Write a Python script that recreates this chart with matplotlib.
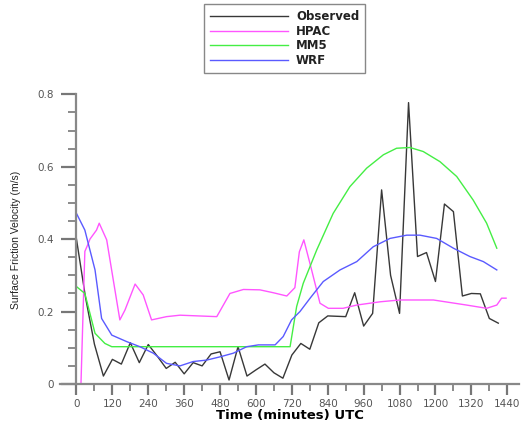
import numpy as np
import matplotlib.pyplot as plt
from matplotlib.ticker import MultipleLocator

# Observed surface friction velocity, every 30 minutes
obs_time = [0, 30, 60, 90, 120, 150, 180, 210, 240, 270, 300, 330, 360, 390, 420,
            450, 480, 510, 540, 570, 600, 630, 660, 690, 720, 750, 780, 810, 840,
            870, 900, 930, 960, 990, 1020, 1050, 1080, 1110, 1140, 1170, 1200,
            1230, 1260, 1290, 1320, 1350, 1380, 1410]
obs_ustar = [0.40, 0.24, 0.11, 0.022, 0.068, 0.055, 0.114, 0.059, 0.109, 0.077,
             0.043, 0.060, 0.028, 0.059, 0.050, 0.083, 0.089, 0.011, 0.103, 0.022,
             0.039, 0.055, 0.031, 0.016, 0.080, 0.112, 0.096, 0.169, 0.188, 0.187,
             0.186, 0.252, 0.160, 0.195, 0.536, 0.300, 0.195, 0.777, 0.352, 0.363,
             0.283, 0.497, 0.476, 0.243, 0.250, 0.249, 0.181, 0.168]

hpac_time = [15, 28, 40, 45, 67, 76, 101, 145, 162, 196, 223, 251, 301, 346, 469,
             513, 558, 613, 658, 703, 730, 745, 760, 786, 814, 842, 891, 937, 1015,
             1081, 1193, 1304, 1371, 1405, 1421, 1436]
hpac_ustar = [0.0, 0.366, 0.389, 0.40, 0.425, 0.444, 0.398, 0.177, 0.204, 0.276,
              0.246, 0.177, 0.186, 0.190, 0.186, 0.250, 0.261, 0.260, 0.252, 0.243,
              0.266, 0.365, 0.398, 0.315, 0.223, 0.209, 0.209, 0.218, 0.227, 0.232,
              0.232, 0.218, 0.209, 0.218, 0.237, 0.237]

mm5_time = [0, 28, 62, 95, 118, 714, 736, 758, 803, 858, 914, 970, 1026, 1070,
            1115, 1159, 1215, 1271, 1326, 1371, 1405]
mm5_ustar = [0.269, 0.250, 0.140, 0.112, 0.103, 0.103, 0.214, 0.278, 0.370, 0.471,
             0.545, 0.596, 0.633, 0.651, 0.653, 0.642, 0.614, 0.573, 0.508, 0.444,
             0.375]

wrf_time = [0, 28, 62, 84, 118, 168, 212, 257, 301, 346, 390, 435, 480, 524, 569,
            608, 664, 691, 719, 747, 781, 825, 881, 937, 992, 1048, 1104, 1148,
            1204, 1260, 1315, 1360, 1405]
wrf_ustar = [0.471, 0.425, 0.315, 0.181, 0.135, 0.117, 0.103, 0.085, 0.057, 0.050,
             0.062, 0.066, 0.075, 0.085, 0.103, 0.108, 0.108, 0.131, 0.177, 0.200,
             0.237, 0.283, 0.315, 0.338, 0.379, 0.402, 0.411, 0.411, 0.402, 0.375,
             0.352, 0.338, 0.315]

fig = plt.figure(figsize=(5.21, 4.23), dpi=100)
ax = fig.add_axes([0.1152, 0.0922, 0.8814, 0.6849])

ax.plot(obs_time, obs_ustar, color='#383838', lw=1.0, label='Observed')
ax.plot(hpac_time, hpac_ustar, color='#ff55ff', lw=1.0, label='HPAC')
ax.plot(mm5_time, mm5_ustar, color='#44ee44', lw=1.0, label='MM5')
ax.plot(wrf_time, wrf_ustar, color='#5a5aff', lw=1.0, label='WRF')

ax.set_xlim(-55, 1480)
ax.set_ylim(0, 0.8)
ax.spines['top'].set_visible(False)
ax.spines['right'].set_visible(False)
ax.spines['left'].set_position(('data', 0))
for s in ['left', 'bottom']:
    ax.spines[s].set_color('#888888')
    ax.spines[s].set_linewidth(1.6)

ax.set_xticks(np.arange(0, 1441, 120))
ax.xaxis.set_minor_locator(MultipleLocator(60))
ax.set_yticks([0, 0.2, 0.4, 0.6, 0.8])
ax.set_yticklabels(['0', '0.2', '0.4', '0.6', '0.8'])
ax.yaxis.set_minor_locator(MultipleLocator(0.05))
ax.tick_params(axis='x', which='major', direction='out', length=8, width=1.6,
               color='#777777', labelsize=7.5, labelcolor='#555555', pad=3)
ax.tick_params(axis='x', which='minor', direction='out', length=5, width=1.2,
               color='#777777')
ax.tick_params(axis='y', which='major', direction='out', length=11, width=1.6,
               color='#777777', labelsize=7.5, labelcolor='#555555', pad=5)
ax.tick_params(axis='y', which='minor', direction='out', length=6, width=1.2,
               color='#777777')

ax.set_xlabel('Time (minutes) UTC', fontsize=9.5, fontweight='bold', labelpad=0)
fig.text(0.03, 0.433, 'Surface Friction Velocity (m/s)', rotation=90,
         ha='center', va='center', fontsize=7.5, family='Liberation Sans',
         color='#222222')

leg = fig.legend(loc='upper left', bbox_to_anchor=(204 / 521, 1 - 4 / 423),
                 borderaxespad=0, fontsize=8.5, handlelength=6.6,
                 handletextpad=0.7, labelspacing=0.15, borderpad=0.5,
                 fancybox=False, edgecolor='#888888', framealpha=1)
leg.get_frame().set_linewidth(1.0)
for t in leg.get_texts():
    t.set_fontweight('bold')
    t.set_color('#222222')

fig.savefig('out.png', dpi=100)
